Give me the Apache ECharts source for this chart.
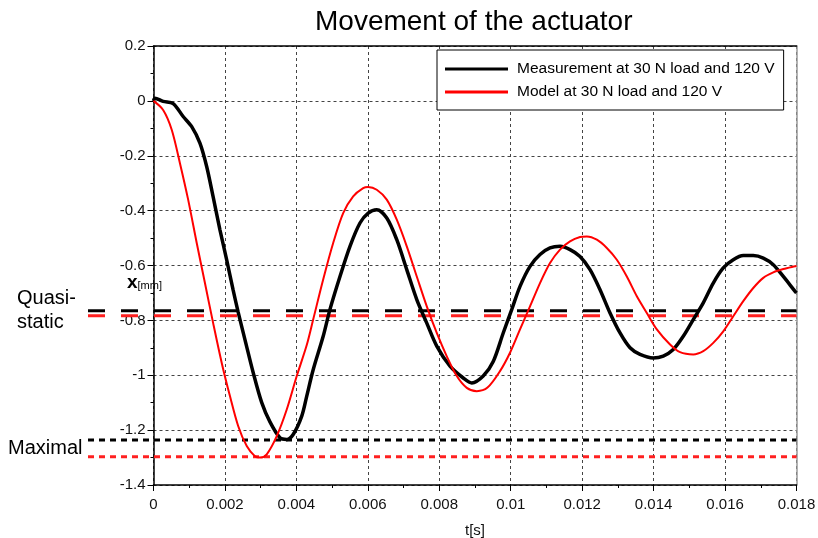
<!DOCTYPE html>
<html>
<head>
<meta charset="utf-8">
<script src="https://cdn.jsdelivr.net/npm/echarts@6/dist/echarts.min.js"></script>
<style>html,body{margin:0;padding:0;background:#fff;}#c{width:818px;height:538px;}</style>
</head>
<body>
<div id="c"></div>
<script>
// Measurement at 30 N load and 120 V  [t (s), x (mm)]
const measurement = [
  [0,0.0],[0.00004,0.01],[0.00027,-0.002],[0.00055,-0.01],[0.00083,-0.057],[0.00107,-0.094],
  [0.0013,-0.154],[0.00149,-0.24],[0.00167,-0.35],[0.00186,-0.47],[0.00205,-0.58],[0.00223,-0.69],
  [0.00237,-0.77],[0.00256,-0.87],[0.00279,-0.99],[0.00303,-1.10],[0.00326,-1.17],[0.00354,-1.228],
  [0.00373,-1.234],[0.00391,-1.216],[0.00415,-1.149],[0.00429,-1.076],[0.00447,-0.98],[0.00475,-0.858],
  [0.00494,-0.76],[0.00522,-0.64],[0.0055,-0.53],[0.00578,-0.445],[0.00601,-0.409],[0.00625,-0.397],
  [0.00653,-0.427],[0.00681,-0.506],[0.00709,-0.615],[0.00737,-0.724],[0.00765,-0.81],[0.00793,-0.894],
  [0.0083,-0.967],[0.00867,-1.01],[0.00891,-1.028],[0.00923,-1.003],[0.00951,-0.95],[0.00979,-0.846],
  [0.01003,-0.76],[0.01026,-0.676],[0.01054,-0.603],[0.01082,-0.56],[0.0111,-0.536],[0.01138,-0.53],
  [0.01166,-0.542],[0.01194,-0.567],[0.01222,-0.615],[0.0125,-0.688],[0.01278,-0.773],[0.01306,-0.846],
  [0.01334,-0.90],[0.01362,-0.924],[0.01399,-0.937],[0.01427,-0.93],[0.01455,-0.906],[0.01483,-0.858],
  [0.01511,-0.797],[0.01539,-0.736],[0.01567,-0.664],[0.01595,-0.609],[0.01623,-0.579],[0.01651,-0.564],
  [0.01679,-0.564],[0.01707,-0.573],[0.01735,-0.597],[0.01763,-0.64],[0.01796,-0.694],[0.018,-0.70]
];
// Model at 30 N load and 120 V  [t (s), x (mm)]
const model = [
  [0,0],[0.00027,-0.033],[0.00051,-0.105],[0.00074,-0.227],[0.00097,-0.36],[0.00121,-0.518],
  [0.00144,-0.664],[0.00167,-0.81],[0.00191,-0.955],[0.00214,-1.076],[0.00237,-1.185],[0.00261,-1.258],
  [0.00284,-1.295],[0.00298,-1.30],[0.00317,-1.288],[0.00345,-1.222],[0.00373,-1.125],[0.00401,-1.003],
  [0.00429,-0.89],[0.00447,-0.797],[0.00475,-0.651],[0.00503,-0.518],[0.00531,-0.409],[0.00559,-0.348],
  [0.00587,-0.318],[0.00601,-0.314],[0.00625,-0.324],[0.00653,-0.36],[0.00681,-0.433],[0.00709,-0.53],
  [0.00737,-0.64],[0.00765,-0.749],[0.00793,-0.846],[0.00821,-0.931],[0.00849,-1.003],[0.00877,-1.046],
  [0.00905,-1.058],[0.00935,-1.045],[0.0097,-0.985],[0.00998,-0.918],[0.01026,-0.833],[0.01054,-0.749],
  [0.01082,-0.664],[0.0111,-0.591],[0.01138,-0.542],[0.01166,-0.512],[0.01194,-0.496],[0.01213,-0.494],
  [0.01241,-0.506],[0.01269,-0.536],[0.01297,-0.579],[0.01325,-0.64],[0.01353,-0.712],[0.01381,-0.773],
  [0.01409,-0.833],[0.01446,-0.888],[0.01474,-0.916],[0.01511,-0.924],[0.01539,-0.912],[0.01567,-0.882],
  [0.01595,-0.84],[0.01623,-0.785],[0.01651,-0.73],[0.01679,-0.682],[0.01707,-0.645],[0.01735,-0.625],
  [0.01763,-0.613],[0.01796,-0.603],[0.018,-0.602]
];
// reference levels (mm)
const quasiStaticMeas = -0.765;
const quasiStaticModel = -0.783;
const maximalMeas = -1.236;
const maximalModel = -1.297;

const xTicks = {min: 0, max: 0.018, interval: 0.002};
const yTicks = {min: -1.4, max: 0.2, interval: 0.2};
const seriesNames = ['Measurement at 30 N load and 120 V', 'Model at 30 N load and 120 V'];

const fmt = v => parseFloat(Number(v).toFixed(4)).toString();
const FONT = 'Liberation Sans, Arial, sans-serif';

const chart = echarts.init(document.getElementById('c'));
const hl = (v) => [[0, v], [1, v]];
chart.setOption({
  animation: false,
  backgroundColor: '#fff',
  title: {
    text: 'Movement of the actuator', left: 310, top: 3,
    textStyle: {fontFamily: FONT, fontSize: 28, fontWeight: 'normal', color: '#000'}
  },
  grid: [
    {left: 153.5, right: 21.5, top: 46, bottom: 53, containLabel: false, outerBoundsMode: 'none'},
    {left: 88, right: 21.5, top: 46, bottom: 53, containLabel: false, outerBoundsMode: 'none'}
  ],
  xAxis: [
    {gridIndex: 0, type: 'value', min: xTicks.min, max: xTicks.max, interval: xTicks.interval,
     axisLine: {onZero: false, lineStyle: {color: '#000', width: 1.5}},
     axisTick: {show: true, inside: false, length: 6, lineStyle: {color: '#000'}},
     minorTick: {show: true, splitNumber: 2, length: 3, lineStyle: {color: '#000'}},
     splitLine: {show: true, lineStyle: {color: '#444', type: [3, 3], width: 1}},
     axisLabel: {formatter: fmt, fontFamily: FONT, fontSize: 15, color: '#111', margin: 12},
     name: 't[s]', nameLocation: 'middle', nameGap: 38,
     nameTextStyle: {fontFamily: FONT, fontSize: 15, color: '#111'}},
    {gridIndex: 0, type: 'value', position: 'top', min: xTicks.min, max: xTicks.max,
     axisLine: {show: true, onZero: false, lineStyle: {color: '#000', width: 1.5}},
     axisTick: {show: false}, axisLabel: {show: false}, splitLine: {show: false}},
    {gridIndex: 1, type: 'value', min: 0, max: 1, show: false}
  ],
  yAxis: [
    {gridIndex: 0, type: 'value', min: yTicks.min, max: yTicks.max, interval: yTicks.interval,
     axisLine: {show: true, onZero: false, lineStyle: {color: '#000', width: 1.5}},
     axisTick: {show: true, inside: false, length: 6, lineStyle: {color: '#000'}},
     minorTick: {show: true, splitNumber: 2, length: 3, lineStyle: {color: '#000'}},
     splitLine: {show: true, lineStyle: {color: '#444', type: [3, 3], width: 1}},
     axisLabel: {formatter: fmt, fontFamily: FONT, fontSize: 15, color: '#111', margin: 8}},
    {gridIndex: 0, type: 'value', position: 'right', min: yTicks.min, max: yTicks.max,
     axisLine: {show: true, onZero: false, lineStyle: {color: '#999', width: 1.5}},
     axisTick: {show: false}, axisLabel: {show: false}, splitLine: {show: false}},
    {gridIndex: 1, type: 'value', min: yTicks.min, max: yTicks.max, show: false}
  ],
  legend: {
    data: seriesNames, orient: 'vertical', left: 437, top: 50,
    backgroundColor: '#fff', borderColor: '#000', borderWidth: 1,
    padding: [11, 9, 10, 8], itemGap: 7, itemWidth: 63, itemHeight: 3,
    icon: 'rect',
    textStyle: {fontFamily: FONT, fontSize: 15.5, color: '#000', padding: [0, 0, 0, 4]}
  },
  graphic: [
    {type: 'text', left: 17, top: 286, style: {text: 'Quasi-\nstatic', font: '20px ' + FONT, fill: '#000', lineHeight: 24}},
    {type: 'text', left: 8, top: 438, style: {text: 'Maximal', font: '20px ' + FONT, fill: '#000'}},
    {type: 'text', left: 127, top: 273, style: {
      text: '{a|x}{b|[mm]}', fill: '#000',
      rich: {a: {fontFamily: FONT, fontSize: 19, fontWeight: 'bold', verticalAlign: 'bottom'},
             b: {fontFamily: FONT, fontSize: 11, verticalAlign: 'bottom', padding: [0, 0, 1, 0]}}}}
  ],
  series: [
    {name: 'qsMeas', type: 'line', xAxisIndex: 2, yAxisIndex: 2, data: hl(quasiStaticMeas), symbol: 'none', silent: true,
     lineStyle: {color: '#000', width: 3, type: [17, 16]}, z: 3},
    {name: 'qsModel', type: 'line', xAxisIndex: 2, yAxisIndex: 2, data: hl(quasiStaticModel), symbol: 'none', silent: true,
     lineStyle: {color: '#ff2020', width: 3, type: [17, 16]}, z: 3},
    {name: 'maxMeas', type: 'line', xAxisIndex: 2, yAxisIndex: 2, data: hl(maximalMeas), symbol: 'none', silent: true,
     lineStyle: {color: '#000', width: 3, type: [6, 5]}, z: 3},
    {name: 'maxModel', type: 'line', xAxisIndex: 2, yAxisIndex: 2, data: hl(maximalModel), symbol: 'none', silent: true,
     lineStyle: {color: '#ff2020', width: 3, type: [6, 5]}, z: 3},
    {name: seriesNames[0], type: 'line', xAxisIndex: 0, yAxisIndex: 0, data: measurement, symbol: 'none',
     smooth: 0.3, lineStyle: {color: '#000', width: 3.5}, itemStyle: {color: '#000'}, z: 4},
    {name: seriesNames[1], type: 'line', xAxisIndex: 0, yAxisIndex: 0, data: model, symbol: 'none',
     smooth: 0.3, lineStyle: {color: '#ff0000', width: 2}, itemStyle: {color: '#ff0000'}, z: 5}
  ]
});
</script>
</body>
</html>
